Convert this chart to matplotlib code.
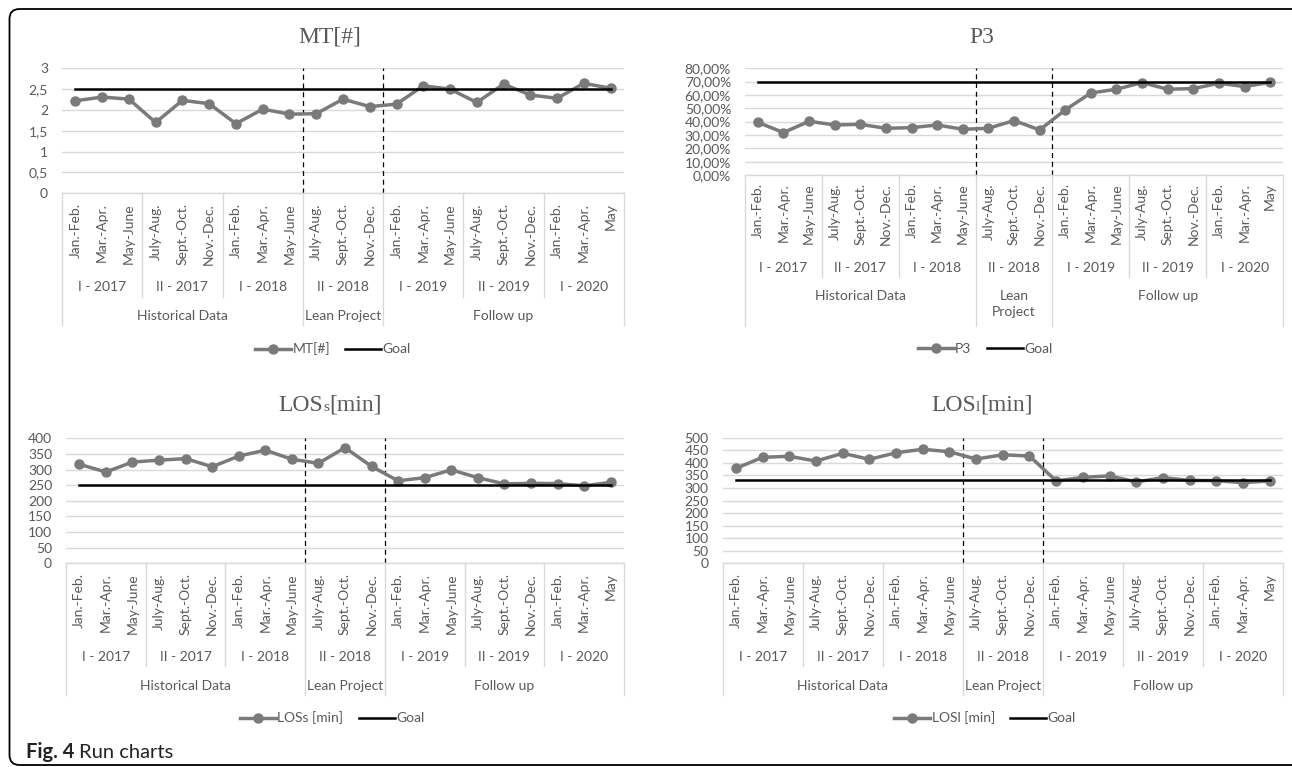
import numpy as np
import matplotlib
matplotlib.use("Agg")
import matplotlib.pyplot as plt
import matplotlib.transforms as mtransforms
from matplotlib.lines import Line2D
from matplotlib.patches import FancyBboxPatch

# ---------------- data ----------------
months = ["Jan.-Feb.", "Mar.-Apr.", "May-June",
          "July-Aug.", "Sept.-Oct.", "Nov.-Dec.",
          "Jan.-Feb.", "Mar.-Apr.", "May-June",
          "July-Aug.", "Sept.-Oct.", "Nov.-Dec.",
          "Jan.-Feb.", "Mar.-Apr.", "May-June",
          "July-Aug.", "Sept.-Oct.", "Nov.-Dec.",
          "Jan.-Feb.", "Mar.-Apr.", "May"]
semesters = ["I - 2017", "II - 2017", "I - 2018", "II - 2018",
             "I - 2019", "II - 2019", "I - 2020"]
phases = ["Historical Data", "Lean Project", "Follow up"]
phase_sizes = [9, 3, 9]

mt = [2.22, 2.31, 2.26, 1.70, 2.23, 2.15, 1.67, 2.02, 1.90, 1.91, 2.26,
      2.08, 2.14, 2.58, 2.50, 2.18, 2.62, 2.36, 2.28, 2.64, 2.52]
mt_goal = 2.5
p3 = [39.5, 31.8, 40.3, 37.5, 38.0, 35.0, 35.5, 37.5, 34.3, 35.0, 40.8,
      33.8, 48.8, 61.5, 64.3, 69.3, 64.3, 64.8, 68.8, 66.3, 69.5]
p3_goal = 70
loss = [317, 292, 324, 330, 335, 309, 343, 362, 333, 320, 370,
        310, 264, 274, 299, 274, 254, 256, 255, 248, 259]
loss_goal = 250
losl = [378, 422, 426, 407, 438, 414, 440, 454, 444, 415, 432,
        427, 328, 342, 348, 324, 341, 330, 329, 321, 328]
losl_goal = 330

# ---------------- style ----------------
plt.rcParams['font.family'] = ['Lato', 'DejaVu Sans']

GRAY = '#7a7a7a'
TXT = '#595959'
GRID = '#D9D9D9'
FS = 10

W, H = 1292, 767
fig = plt.figure(figsize=(W / 100, H / 100), dpi=100)
renderer = fig.canvas.get_renderer()


def add_ax(l, r, t, b):
    return fig.add_axes([l / W, 1 - b / H, (r - l) / W, (b - t) / H])


def draw(ax, vals, goal, ymax, ystep, fmt, label, hp, rot_gap, year_off,
         group_off, short_off, long_off, lean_text="Lean Project"):
    x = np.arange(len(vals))
    ax.plot(x, vals, color=GRAY, lw=2.5, marker='o', ms=6.5, label=label,
            zorder=3, solid_joinstyle='round')
    ax.plot(x, [goal] * len(vals), color='black', lw=1.8, label='Goal', zorder=4)
    bounds = np.cumsum(phase_sizes)[:-1] - 0.5
    ax.vlines(bounds, 0, ymax, colors='black', linestyles=(0, (4, 3)), lw=0.9,
              zorder=2)
    ax.set_xlim(-0.5, len(vals) - 0.5)
    ax.set_ylim(0, ymax)
    ticks = np.arange(0, ymax + ystep / 2, ystep)
    ax.set_yticks(ticks)
    ax.set_yticklabels([fmt(v) for v in ticks])
    ax.yaxis.grid(True, color=GRID, lw=1)
    ax.set_axisbelow(True)
    for s in ['left', 'right', 'top']:
        ax.spines[s].set_visible(False)
    ax.spines['bottom'].set_color(GRID)
    ax.spines['bottom'].set_linewidth(1)
    ax.tick_params(axis='y', length=0, pad=10, labelsize=FS, labelcolor=TXT)
    ax.tick_params(axis='x', length=0, pad=rot_gap * 0.72, labelsize=FS,
                   labelcolor=TXT)
    ax.set_xticks(x)
    ax.set_xticklabels(months, rotation=90, va='top', ha='center')

    trans = mtransforms.blended_transform_factory(ax.transData, ax.transAxes)
    long_pos = set([-0.5, len(vals) - 0.5] + list(bounds))
    for xb in np.arange(-0.5, len(vals), 3):
        off = long_off if xb in long_pos else short_off
        ax.add_line(Line2D([xb, xb], [0, -off / hp], transform=trans,
                           color=GRID, lw=1, clip_on=False))
    for i, s in enumerate(semesters):
        xc = i * 3 + 1
        ax.text(xc, -year_off / hp, s, transform=trans, ha='center',
                va='center', fontsize=FS, color=TXT)
    start = 0
    names = [phases[0], lean_text, phases[2]]
    for n, size in zip(names, phase_sizes):
        xc = start + (size - 1) / 2
        ax.text(xc, -group_off / hp, n, transform=trans, ha='center',
                va='top', fontsize=FS, color=TXT, linespacing=1.45)
        start += size


def title(cx, cy, main, sub=None, tail=None):
    big, small = 17, 11
    kw = dict(fontfamily='Liberation Serif', color=TXT, va='baseline',
              ha='left')
    parts = [(main, big)]
    if sub:
        parts.append((sub, small))
    if tail:
        parts.append((tail, big))
    texts = [fig.text(0, 0, s, fontsize=f, **kw) for s, f in parts]
    widths = [t.get_window_extent(renderer=renderer).width for t in texts]
    total = sum(widths)
    x = cx - total / 2
    base = cy + 6
    for t, w in zip(texts, widths):
        t.set_position((x / W, 1 - base / H))
        x += w


def legend(ax, cx, cy):
    h, l = ax.get_legend_handles_labels()
    fig.legend(h, l, loc='center', bbox_to_anchor=(cx / W, 1 - cy / H),
               ncol=2, frameon=False, fontsize=FS, handlelength=2.6,
               handletextpad=0.1, columnspacing=1.1, labelcolor=TXT,
               borderaxespad=0, borderpad=0)


fmt_mt = lambda v: ('%g' % v).replace('.', ',')
fmt_p3 = lambda v: ('%.2f' % v).replace('.', ',') + '%'
fmt_int = lambda v: '%d' % v

# MT
ax1 = add_ax(62, 624, 68.3, 193.3)
draw(ax1, mt, mt_goal, 3, 0.5, fmt_mt, 'MT[#]', 125, 10, 94, 117, 104, 132)
title(330, 37, 'MT[#]')
legend(ax1, 333, 349)

# P3
ax2 = add_ax(745, 1283, 68.3, 175)
draw(ax2, p3, p3_goal, 80, 10, fmt_p3, 'P3', 106.7, 8, 93, 115, 102, 151,
     lean_text="Lean\nProject")
title(982, 37, 'P3')
legend(ax2, 985, 349)

# LOSs
ax3 = add_ax(66, 624, 438.3, 563.3)
draw(ax3, loss, loss_goal, 400, 50, fmt_int, 'LOSs [min]', 125, 10, 94, 117,
     103, 132)
title(330, 405, 'LOS', 's', '[min]')
legend(ax3, 332, 718)

# LOSl
ax4 = add_ax(722.6, 1283, 437.7, 563.3)
draw(ax4, losl, losl_goal, 500, 50, fmt_int, 'LOSl [min]', 125.6, 10, 94, 117,
     103, 132)
title(982, 405, 'LOS', 'l', '[min]')
legend(ax4, 985, 718)

# caption
t1 = fig.text(26 / W, 1 - 758 / H, 'Fig. 4', fontsize=14.5, fontweight='bold',
              color='#222222', va='baseline', ha='left')
bb = t1.get_window_extent(renderer=renderer)
fig.text((bb.x1 + 5) / W, 1 - 758 / H, 'Run charts', fontsize=14.5,
         color='#222222', va='baseline', ha='left')

# border
border = FancyBboxPatch((9.5, 2), 1300, (H - 9) - 2,
                        boxstyle='round,pad=0,rounding_size=10',
                        transform=mtransforms.IdentityTransform(),
                        fill=False, edgecolor='black', lw=1.3)
fig.add_artist(border)

fig.savefig('out.png', dpi=100)
